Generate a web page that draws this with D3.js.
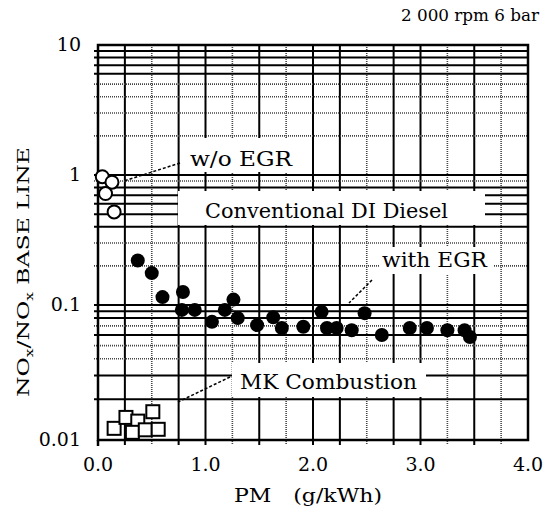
<!DOCTYPE html>
<html><head><meta charset="utf-8">
<script src="https://cdn.jsdelivr.net/npm/d3@7"></script>
<style>body{margin:0;background:#fff}svg{display:block}text{font-family:"DejaVu Serif","Liberation Serif",serif;fill:#000}</style>
</head><body>
<svg id="c" width="544" height="517"></svg>
<script>
// ---- data ----
const xTicks = [0, 1, 2, 3, 4];
const xTickLabels = ["0.0", "1.0", "2.0", "3.0", "4.0"];
const yTicks = [0.01, 0.1, 1, 10];
const yTickLabels = ["0.01", "0.1", "1", "10"];
const xGrid = [0.25,0.5,0.75,1,1.25,1.5,1.75,2,2.25,2.5,2.75,3,3.25,3.5,3.75];
const xGridDotted = [0.5,1.25,1.75,2.5,3.25,3.75];
const yGrid = [0.02,0.03,0.04,0.05,0.06,0.07,0.08,0.09,0.1,0.2,0.3,0.4,0.5,0.6,0.7,0.8,0.9,1,2,3,4,5,6,7,8,9];
const yGridDotted = [0.04,0.05,0.07,0.2,0.3,0.9,2,3,4,5];

const woEgrPM  = [0.04, 0.13, 0.07, 0.15];
const woEgrNOx = [0.97, 0.88, 0.72, 0.52];

const egrPM  = [0.37,0.50,0.60,0.79,0.78,0.90,1.06,1.18,1.26,1.30,1.48,1.63,1.71,1.91,2.08,2.13,2.22,2.36,2.48,2.64,2.90,3.06,3.25,3.41,3.46];
const egrNOx = [0.22,0.176,0.115,0.126,0.092,0.092,0.075,0.092,0.11,0.080,0.071,0.081,0.0675,0.069,0.089,0.0675,0.0675,0.065,0.087,0.060,0.0675,0.0675,0.065,0.065,0.058];

const mkPM  = [0.15,0.26,0.37,0.51,0.32,0.44,0.56];
const mkNOx = [0.0122,0.0147,0.0138,0.0162,0.0114,0.0119,0.0120];

const titleText = "2 000 rpm 6 bar";
const xTitle = "PM\u2003(g/kWh)";

// ---- scales ----
const x = d3.scaleLinear().domain([0, 4]).range([98, 528]);
const y = d3.scaleLog().domain([0.01, 0.1, 1, 10]).range([440, 305, 175, 45]);

const svg = d3.select("#c");
const X0 = x(0), X1 = x(4), Y0 = y(0.01), Y1 = y(10);

// grid
const g = svg.append("g");
g.selectAll("line.vg").data(xGrid).join("line")
  .attr("x1", d => x(d)).attr("x2", d => x(d)).attr("y1", Y1).attr("y2", Y0 + 5)
  .attr("stroke", d => xGridDotted.includes(d) ? "#444" : "#000")
  .attr("stroke-width", d => xGridDotted.includes(d) ? 1.6 : 2)
  .attr("stroke-dasharray", d => xGridDotted.includes(d) ? "1,1" : null);
g.selectAll("line.hg").data(yGrid).join("line")
  .attr("x1", X0 - 4).attr("x2", X1).attr("y1", d => y(d)).attr("y2", d => y(d))
  .attr("stroke", d => yGridDotted.includes(d) ? "#444" : "#000")
  .attr("stroke-width", d => yGridDotted.includes(d) ? 1.6 : 2)
  .attr("stroke-dasharray", d => yGridDotted.includes(d) ? "1,1" : null);

// frame
svg.append("rect").attr("x", X0).attr("y", Y1).attr("width", X1 - X0).attr("height", Y0 - Y1)
  .attr("fill", "none").attr("stroke", "#000").attr("stroke-width", 2.5);
svg.append("line").attr("x1", X0).attr("x2", X0).attr("y1", Y0).attr("y2", Y0 + 6).attr("stroke", "#000").attr("stroke-width", 2.5);

// annotation boxes (white, hide grid)
const boxes = [
  {x0: 180, y0: 138, x1: 310, y1: 172},
  {x0: 178, y0: 191, x1: 485, y1: 225},
  {x0: 380, y0: 247, x1: 493, y1: 274},
  {x0: 232, y0: 363, x1: 426, y1: 397}
];
svg.selectAll("rect.box").data(boxes).join("rect")
  .attr("x", d => d.x0).attr("y", d => d.y0).attr("width", d => d.x1 - d.x0).attr("height", d => d.y1 - d.y0)
  .attr("fill", "#fff");

// annotation texts
const ann = [
  {t: "w/o EGR", x: 190, y: 166, w: 102, s: 20},
  {t: "Conventional DI Diesel", x: 205, y: 218, w: 243, s: 21},
  {t: "with EGR", x: 382, y: 267, w: 105, s: 20},
  {t: "MK Combustion", x: 240, y: 389, w: 177, s: 20}
];
svg.selectAll("text.ann").data(ann).join("text")
  .attr("x", d => d.x).attr("y", d => d.y).attr("font-size", d => d.s)
  .attr("textLength", d => d.w).attr("lengthAdjust", "spacingAndGlyphs").text(d => d.t);

// leader lines
const leaders = [
  {x1: 180, y1: 163, x2: 124, y2: 181},
  {x1: 372, y1: 280, x2: 349, y2: 303},
  {x1: 230, y1: 377, x2: 178, y2: 402}
];
svg.selectAll("line.ld").data(leaders).join("line")
  .attr("x1", d => d.x1).attr("y1", d => d.y1).attr("x2", d => d.x2).attr("y2", d => d.y2)
  .attr("stroke", "#000").attr("stroke-width", 1.5).attr("stroke-dasharray", "3,2");

// markers
svg.append("g").selectAll("circle").data(d3.zip(egrPM, egrNOx)).join("circle")
  .attr("cx", d => x(d[0])).attr("cy", d => y(d[1])).attr("r", 7).attr("fill", "#000");
svg.append("g").selectAll("circle").data(d3.zip(woEgrPM, woEgrNOx)).join("circle")
  .attr("cx", d => x(d[0])).attr("cy", d => y(d[1])).attr("r", 6.5)
  .attr("fill", "#fff").attr("stroke", "#000").attr("stroke-width", 2);
svg.append("g").selectAll("rect").data(d3.zip(mkPM, mkNOx)).join("rect")
  .attr("x", d => x(d[0]) - 6.5).attr("y", d => y(d[1]) - 6.5).attr("width", 13).attr("height", 13)
  .attr("fill", "#fff").attr("stroke", "#000").attr("stroke-width", 2);

// tick labels
svg.selectAll("text.xt").data(xTicks).join("text")
  .attr("x", d => x(d)).attr("y", 471).attr("text-anchor", "middle").attr("font-size", 19)
  .text((d, i) => xTickLabels[i]);
svg.selectAll("text.yt").data(yTicks).join("text")
  .attr("x", 81).attr("y", d => y(d) + 6).attr("text-anchor", "end").attr("font-size", 19)
  .text((d, i) => yTickLabels[i]);

// titles
svg.append("text").attr("x", 308).attr("y", 502).attr("text-anchor", "middle").attr("font-size", 19)
  .attr("textLength", 148).attr("lengthAdjust", "spacingAndGlyphs").text(xTitle);
const yt = svg.append("text").attr("transform", "translate(29,272) rotate(-90)")
  .attr("text-anchor", "middle").attr("font-size", 17).attr("textLength", 250).attr("lengthAdjust", "spacingAndGlyphs");
yt.append("tspan").text("NO");
yt.append("tspan").attr("font-size", 11).attr("dy", 4).text("x");
yt.append("tspan").attr("dy", -4).text("/NO");
yt.append("tspan").attr("font-size", 11).attr("dy", 4).text("x");
yt.append("tspan").attr("dy", -4).text(" BASE LINE");
svg.append("text").attr("x", 539).attr("y", 21).attr("text-anchor", "end").attr("font-size", 16)
  .attr("textLength", 138).attr("lengthAdjust", "spacingAndGlyphs").text(titleText);
</script>
</body></html>
